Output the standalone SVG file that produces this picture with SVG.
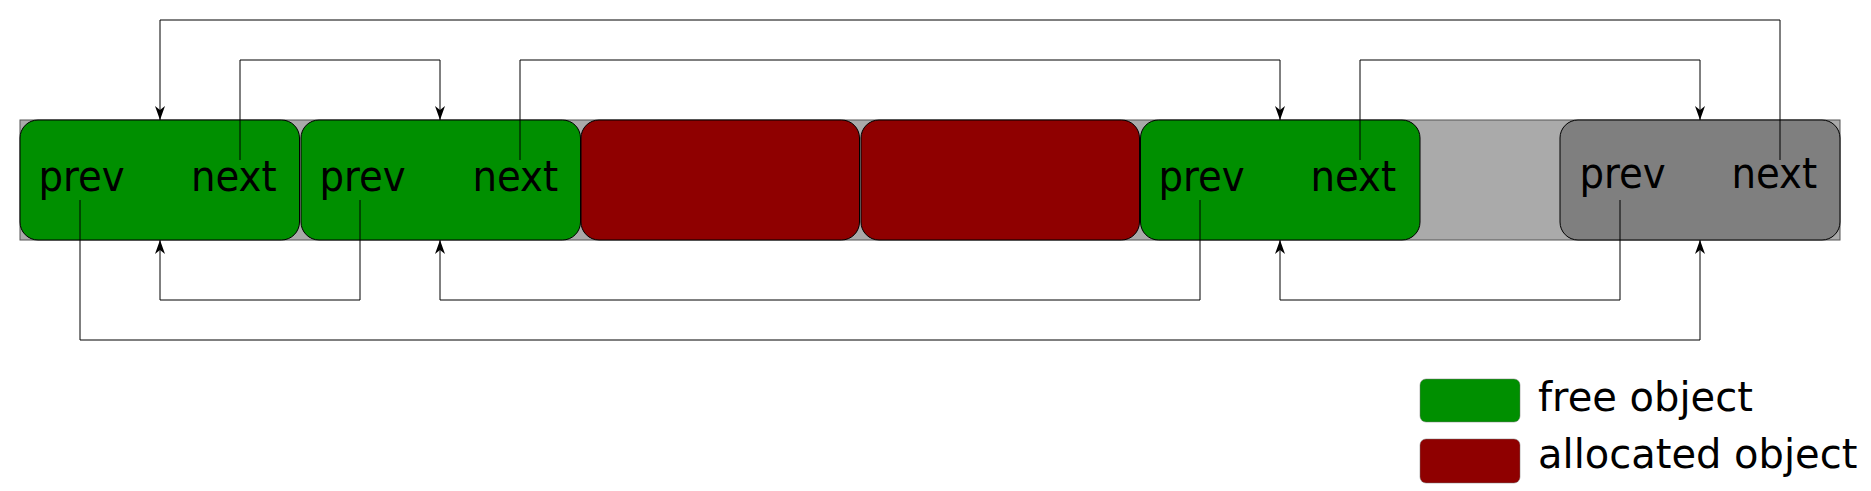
<svg xmlns="http://www.w3.org/2000/svg" width="1871" height="491" viewBox="0 0 1871 491">
<style>
.box{stroke:#000;stroke-width:1}
.free{fill:#008f00}
.alloc{fill:#8f0000}
.top{fill:#7f7f7f}
.lbl{font-family:"DejaVu Sans Condensed","DejaVu Sans",sans-serif;font-size:43px;fill:#000}
.leg{font-family:"DejaVu Sans",sans-serif;font-size:40px;fill:#000}
.ln{fill:none;stroke:#000;stroke-width:1}
</style>
<defs>
<marker id="arr" viewBox="-15 -6 16 12" refX="0" refY="0" markerWidth="16" markerHeight="12" markerUnits="userSpaceOnUse" orient="auto">
<path d="M0,0 L-14,-5 L-10,0 L-14,5 Z" fill="#000"/>
</marker>
</defs>
<rect id="strip" x="20" y="120" width="1820" height="120" fill="#aaaaaa" stroke="#555" stroke-width="1"/>
<g id="free1"><rect class="box free" x="20" y="120" width="279.5" height="120" rx="18"/><text class="lbl" x="38.5" y="191">prev</text><text class="lbl" x="191" y="191">next</text></g>
<g id="free2"><rect class="box free" x="301" y="120" width="279.5" height="120" rx="18"/><text class="lbl" x="319.5" y="191">prev</text><text class="lbl" x="472.5" y="191">next</text></g>
<g id="alloc1"><rect class="box alloc" x="581" y="120" width="278.5" height="120" rx="18"/></g>
<g id="alloc2"><rect class="box alloc" x="861" y="120" width="278.5" height="120" rx="18"/></g>
<g id="free3"><rect class="box free" x="1140.5" y="120" width="279.5" height="120" rx="18"/><text class="lbl" x="1158.5" y="191">prev</text><text class="lbl" x="1310.5" y="191">next</text></g>
<g id="top"><rect class="box top" x="1560" y="120" width="280" height="120" rx="18"/><text class="lbl" x="1579.5" y="188">prev</text><text class="lbl" x="1731.5" y="188">next</text></g>
<g id="connectors">
<path class="ln" d="M1780,160 V20 H160 V120" marker-end="url(#arr)"/>
<path class="ln" d="M240,160 V60 H440 V120" marker-end="url(#arr)"/>
<path class="ln" d="M520,160 V60 H1280 V120" marker-end="url(#arr)"/>
<path class="ln" d="M1360,160 V60 H1700 V120" marker-end="url(#arr)"/>
<path class="ln" d="M80,200 V340 H1700 V240" marker-end="url(#arr)"/>
<path class="ln" d="M360,200 V300 H160 V240" marker-end="url(#arr)"/>
<path class="ln" d="M1200,200 V300 H440 V240" marker-end="url(#arr)"/>
<path class="ln" d="M1620,200 V300 H1280 V240" marker-end="url(#arr)"/>
</g>
<g id="legend">
<rect class="free" x="1420" y="379" width="100" height="43" rx="6" stroke="#777" stroke-width="0.5"/>
<text class="leg" x="1538" y="411">free object</text>
<rect class="alloc" x="1420" y="439" width="100" height="44" rx="6" stroke="#777" stroke-width="0.5"/>
<text class="leg" x="1538" y="468">allocated object</text>
</g>
</svg>
